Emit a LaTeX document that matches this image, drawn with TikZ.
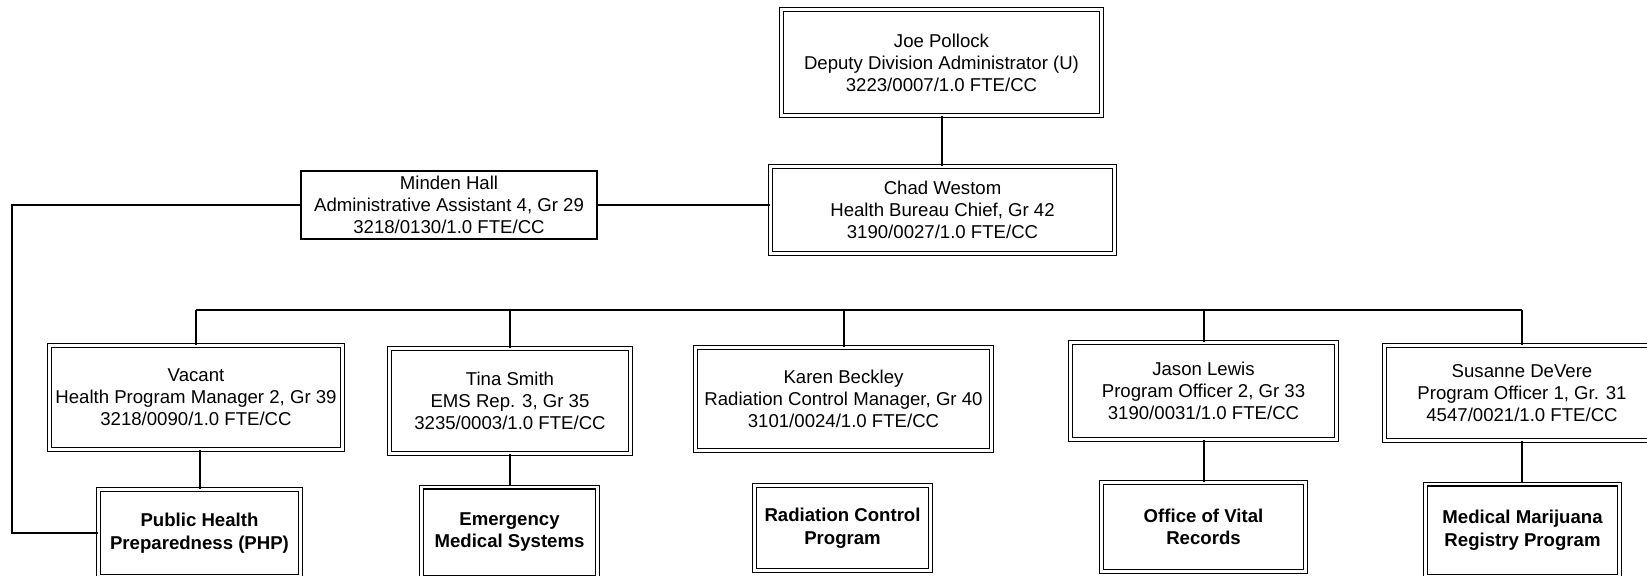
\documentclass[tikz,border=0pt]{standalone}
\usepackage{fontspec}
\setmainfont{Liberation Sans}
\usepackage{tikz}
\tikzset{
    posbox/.style={draw, double, line width=0.65pt, double distance=1.2pt, align=center, inner sep=0pt, font=\fontsize{9.3}{11}\selectfont},
    unitbox/.style={posbox, font=\fontsize{9.3}{11.3}\selectfont\bfseries},
    plainbox/.style={draw, line width=0.7pt, align=center, inner sep=0pt, font=\fontsize{9.3}{11}\selectfont},
    link/.style={line width=1pt}
}

\begin{document}
\begin{tikzpicture}[x=0.5pt, y=-0.5pt]
            \useasboundingbox (0,0) rectangle (1647,576);
            % top of the chart
            \node[posbox, minimum width=160pt, minimum height=53pt] (joe) at (941.5,62.5) {Joe Pollock\\Deputy Division Administrator (U)\\3223/0007/1.0 FTE/CC};
            \node[posbox, minimum width=172pt, minimum height=43.5pt] (chad) at (942.5,210) {Chad Westom\\Health Bureau Chief, Gr 42\\3190/0027/1.0 FTE/CC};
            \node[plainbox, minimum width=148pt, minimum height=34pt] (minden) at (449,205) {Minden Hall\\Administrative Assistant 4, Gr 29\\3218/0130/1.0 FTE/CC};
            % managers
            \node[posbox, minimum width=146.5pt, minimum height=52pt] (vacant) at (196,397.5) {Vacant\\Health Program Manager 2, Gr 39\\3218/0090/1.0 FTE/CC};
            \node[posbox, minimum width=120.5pt, minimum height=52.5pt] (tina) at (510,401) {Tina Smith\\EMS Rep. 3, Gr 35\\3235/0003/1.0 FTE/CC};
            \node[posbox, minimum width=148pt, minimum height=51.5pt] (karen) at (843.5,399) {Karen Beckley\\Radiation Control Manager, Gr 40\\3101/0024/1.0 FTE/CC};
            \node[posbox, minimum width=133pt, minimum height=48.5pt] (jason) at (1203.5,391) {Jason Lewis\\Program Officer 2, Gr 33\\3190/0031/1.0 FTE/CC};
            \node[posbox, minimum width=137.5pt, minimum height=47.5pt] (susanne) at (1522,393) {Susanne DeVere\\Program Officer 1, Gr. 31\\4547/0021/1.0 FTE/CC};
            % programs
            \node[unitbox, minimum width=101pt, minimum height=43.5pt] (php) at (199.5,533) {Public Health\\Preparedness (PHP)};
            \node[unitbox, minimum width=88pt, minimum height=45pt] (ems) at (509.5,532) {Emergency\\Medical Systems};
            \node[unitbox, minimum width=88pt, minimum height=42.5pt] (radiation) at (842.5,528) {Radiation Control\\Program};
            \node[unitbox, minimum width=102pt, minimum height=44.5pt] (records) at (1203.5,527) {Office of Vital\\Records};
            \node[unitbox, minimum width=97pt, minimum height=46pt] (marijuana) at (1522.5,530) {Medical Marijuana\\Registry Program};
            % lines
            \coordinate (bus) at (0,310);
            \draw[link] (joe.south) -- (joe.south |- chad.north);
            \draw[link] (minden.east) -- (minden.east -| chad.west);
            \draw[link] (minden.west) -- ++(-288,0) |- (php.west);
            \draw[link] (vacant.north |- bus) -- (susanne.north |- bus);
            \foreach \n in {vacant,tina,karen,jason,susanne}
                \draw[link] (\n.north) -- (\n.north |- bus);
            \draw[link] (php.north) -- (php.north |- vacant.south);
            \draw[link] (tina.south) -- (tina.south |- ems.north);
            \draw[link] (jason.south) -- (jason.south |- records.north);
            \draw[link] (susanne.south) -- (susanne.south |- marijuana.north);
        \end{tikzpicture}
\end{document}
